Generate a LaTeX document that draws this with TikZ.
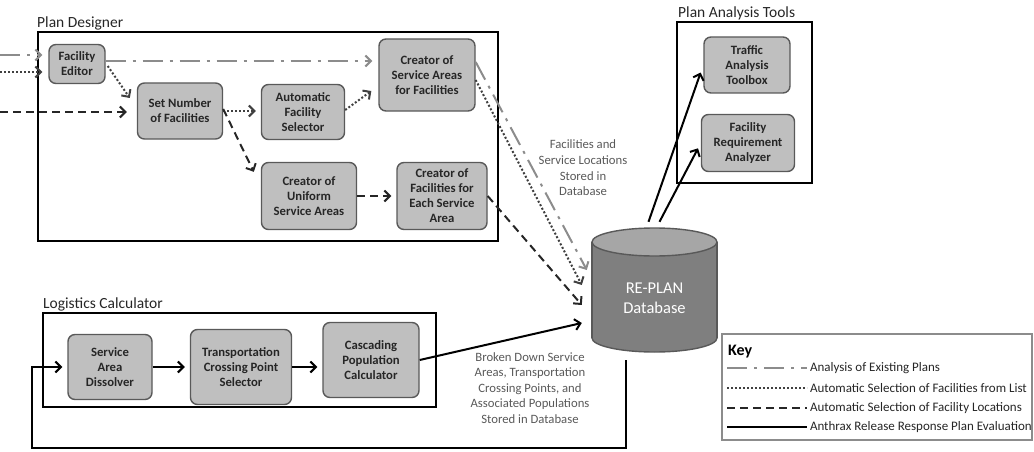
\documentclass[tikz,border=0pt]{standalone}
\usepackage{fontspec}
\setmainfont{Carlito}
\usetikzlibrary{arrows.meta}

\definecolor{boxfill}{HTML}{BFBFBF}
\definecolor{boxline}{HTML}{595959}
\definecolor{flowgray}{HTML}{8C8C8C}
\definecolor{flowdot}{HTML}{404040}
\definecolor{flowdash}{HTML}{262626}
\definecolor{notegray}{HTML}{595959}
\definecolor{dbbody}{HTML}{7F7F7F}
\definecolor{dbtop}{HTML}{A6A6A6}

\tikzset{
  proc/.style={draw=boxline, fill=boxfill, line width=1.4pt, rounded corners=7,
    align=center, inner sep=1, text=black!85,
    font=\bfseries\fontsize{12.7}{15}\selectfont},
  grp/.style={draw=black, line width=1.6pt},
  grplabel/.style={anchor=base west, inner sep=0, text=black!85,
    font=\fontsize{15.5}{18}\selectfont},
  note/.style={align=center, text=notegray, font=\fontsize{12.7}{15.6}\selectfont},
  flow/.style={-{Straight Barb[length=5.5pt,width=11pt]}},
  existing/.style={flowgray, line width=2pt, dash pattern=on 20pt off 7pt on 3pt off 7pt},
  fromlist/.style={flowdot, line width=2pt, dash pattern=on 2pt off 2pt},
  locations/.style={flowdash, line width=2pt, dash pattern=on 8pt off 5pt},
  evaluation/.style={black, line width=2pt},
}

\begin{document}
\begin{tikzpicture}[x=1pt, y=-1pt]
  \useasboundingbox (0,0) rectangle (1034,452);

  % Plan Designer
  \draw[grp] (38,32) rectangle (498,241);
  \draw (37,28) node[grplabel](pdlabel){Plan Designer};
  \draw (77,64) node[proc, minimum width=56, minimum height=39](fe){Facility\\Editor};
  \draw (180,111) node[proc, minimum width=85, minimum height=56](sn){Set Number\\of Facilities};
  \draw (303,112) node[proc, minimum width=83, minimum height=55](afs){Automatic\\Facility\\Selector};
  \draw (427,75) node[proc, minimum width=96, minimum height=72](csa){Creator of\\Service Areas\\for Facilities};
  \draw (309,196) node[proc, minimum width=95, minimum height=67](cu){Creator of\\Uniform\\Service Areas};
  \draw (442,196) node[proc, minimum width=90, minimum height=67](cf){Creator of\\Facilities for\\Each Service\\Area};

  % Logistics Calculator
  \draw[grp] (43,313) rectangle (436,407);
  \draw (43,308) node[grplabel](lclabel){Logistics Calculator};
  \draw (110,367) node[proc, minimum width=84, minimum height=65](sad){Service\\Area\\Dissolver};
  \draw (241,367) node[proc, minimum width=101, minimum height=75](tcps){Transportation\\Crossing Point\\Selector};
  \draw (371,360) node[proc, minimum width=96, minimum height=75](cpc){Cascading\\Population\\Calculator};

  % Plan Analysis Tools
  \draw[grp] (677,22) rectangle (812,183);
  \draw (678,18) node[grplabel](patlabel){Plan Analysis Tools};
  \draw (747,65) node[proc, minimum width=86, minimum height=56](tat){Traffic\\Analysis\\Toolbox};
  \draw (748,143) node[proc, minimum width=93, minimum height=57](fra){Facility\\Requirement\\Analyzer};

  % database
  \filldraw[fill=dbbody, draw=boxline, line width=1.4pt] (654.5,338) ellipse [x radius=62.5, y radius=14];
  \fill[dbbody] (592,242) rectangle (717,338);
  \draw[boxline, line width=1.4pt] (592,242) -- (592,338) (717,242) -- (717,338);
  \filldraw[fill=dbtop, draw=boxline, line width=1.4pt] (654.5,242) ellipse [x radius=62.5, y radius=14];
  \draw (654.5,298) node[minimum width=125, minimum height=124, align=center, text=white,
    font=\fontsize{16.5}{20}\selectfont](db){RE-PLAN\\Database};

  % inputs
  \coordinate (in1) at (0,55);
  \coordinate (in2) at (0,72);
  \coordinate (in3) at (0,112);
  \coordinate (loop) at (32,448);

  % flows in Plan Designer
  \draw[existing, flow, shorten >=6pt] (in1) -- (fe.west |- in1);
  \draw[fromlist, flow, shorten >=6pt] (in2) -- (fe.west |- in2);
  \draw[locations, flow, shorten >=10pt] (in3) -- (sn.west |- in3);
  \draw[existing, flow, shorten >=6pt] ([shift={(0,-3)}]fe.east) -- ([shift={(0,-14)}]csa.west);
  \draw[fromlist, flow] ([shift={(2,2)}]fe.east) -- ([shift={(-7,-13)}]sn.west);
  \draw[fromlist, flow, shorten >=5pt] (sn.east) -- (afs.west |- sn.east);
  \draw[fromlist, flow] ([shift={(0,-2)}]afs.east) -- ([shift={(-7,16)}]csa.west);
  \draw[locations, flow] ([shift={(0,-2)}]sn.east) -- ([shift={(-7,10)}]cu.north west);
  \draw[locations, flow, shorten >=5pt] (cu.east) -- (cf.west);

  % into the database
  \draw[existing, flow] ([shift={(0,-13)}]csa.east) -- ([shift={(-5,-28)}]db.west);
  \draw[fromlist, flow] ([shift={(0,5)}]csa.east) -- ([shift={(-10,-13)}]db.west);
  \draw[locations, flow] (cf.east) -- ([shift={(-10,7)}]db.west);
  \draw[evaluation, flow] (cpc.east) -- ([shift={(-10,25)}]db.west);

  % flows in Logistics Calculator
  \draw[evaluation, flow, shorten >=5pt] (sad.east) -- (tcps.west);
  \draw[evaluation, flow, shorten >=5pt] (tcps.east) -- (cpc.west |- tcps.east);
  \draw[evaluation, flow, shorten >=5pt] ([shift={(-28.5,0)}]db.south) |- (loop) |- (sad.west);

  % out to the analysis tools
  \draw[evaluation, flow, shorten >=8pt] ([shift={(-6,-14)}]db.north) -- (tat.west);
  \draw[evaluation, flow, shorten >=6pt] ([shift={(5,-14)}]db.north) -- (fra.west);

  % notes
  \draw (583,168) node[note](storednote){Facilities and\\Service Locations\\Stored in\\Database};
  \draw (530,388) node[note](brokennote){Broken Down Service\\Areas, Transportation\\Crossing Points, and\\Associated Populations\\Stored in Database};

  % key
  \draw[draw=black!45, line width=1.4pt] (722,334) rectangle (1032,440);
  \draw (727,352) node[anchor=west, inner sep=1, font=\bfseries\fontsize{16}{19}\selectfont](keytitle){Key};
  \foreach \y/\sty/\txt in {368/existing/Analysis of Existing Plans,
      388/fromlist/Automatic Selection of Facilities from List,
      408/locations/Automatic Selection of Facility Locations,
      427/evaluation/Anthrax Release Response Plan Evaluation}
    \draw[\sty] (727,\y) -- (807,\y) node[anchor=west, inner sep=2, solid, black!85,
      font=\fontsize{13}{15}\selectfont](key\y){\txt};
\end{tikzpicture}
\end{document}
